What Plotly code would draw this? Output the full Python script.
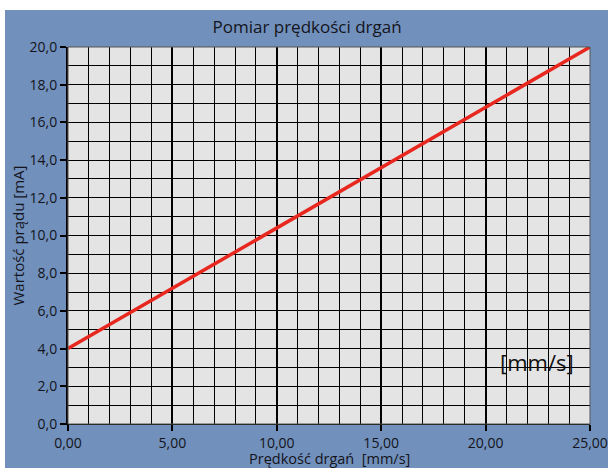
import plotly.graph_objects as go

# Data
speed = [0, 25]          # mm/s
current = [4.0, 20.0]    # mA
x_ticks = [0, 5, 10, 15, 20, 25]
y_ticks = [0, 2, 4, 6, 8, 10, 12, 14, 16, 18, 20]

title = "Pomiar prędkości drgań"
x_title = "Prędkość drgań  [mm/s]"
y_title = "Wartość prądu [mA]"
unit_label = "[mm/s]"

BLUE = "#7190bb"
FONT = "Open Sans"
TXT = "#14141c"

fig = go.Figure()
fig.add_trace(go.Scatter(x=speed, y=current, mode="lines",
                         line=dict(color="#e8271f", width=3.5),
                         showlegend=False, cliponaxis=False, hoverinfo="skip"))

W, H = 608, 468
L, R, T, B = 68, 18, 47, 44
pw, ph = W - L - R, H - T - B

def px_x(p):
    return (p - L) / pw

def px_y(p):
    return (H - B - p) / ph

# white strips (top and left) outside the blue frame
fig.add_shape(type="rect", xref="paper", yref="paper",
              x0=px_x(-5), x1=px_x(W + 5), y0=px_y(10), y1=px_y(-5),
              fillcolor="white", line_width=0, layer="below")
fig.add_shape(type="rect", xref="paper", yref="paper",
              x0=px_x(-5), x1=px_x(5), y0=px_y(H + 5), y1=px_y(-5),
              fillcolor="white", line_width=0, layer="below")
# plot border
fig.add_shape(type="rect", xref="paper", yref="paper",
              x0=0, x1=1, y0=0, y1=1,
              line=dict(color="#555555", width=1), layer="above")

fig.add_annotation(x=22.45, y=3.3, text=unit_label, showarrow=False,
                   font=dict(family=FONT, size=22, color="#111111"))

# x-axis title placed as annotation just below the tick labels
fig.add_annotation(xref="paper", yref="paper", x=0.5, y=px_y(458),
                   xanchor="center", yanchor="middle", text=x_title,
                   showarrow=False, borderpad=0,
                   font=dict(family=FONT, size=14.5, color=TXT))

fig.update_layout(
    width=W, height=H,
    margin=dict(l=L, r=R, t=T, b=B, pad=0, autoexpand=False),
    paper_bgcolor=BLUE,
    plot_bgcolor="#e4e4e4",
    separators=",.",
    font=dict(family=FONT, size=14, color=TXT),
    title=dict(text=title, x=0.505, xanchor="center", y=1 - 27 / H,
               yanchor="middle", automargin=False,
               font=dict(family=FONT, size=17, color=TXT)),
    xaxis=dict(range=[0, 25], tickvals=x_ticks, tickformat=".2f",
               automargin=False, ticklabeloverflow="allow",
               showgrid=True, gridcolor="black", gridwidth=2,
               ticks="outside", ticklen=6, tickwidth=2, tickcolor="black",
               showline=True, linecolor="black", linewidth=1,
               minor=dict(dtick=1, showgrid=True, gridcolor="black", gridwidth=1, ticks=""),
               zeroline=False),
    yaxis=dict(range=[0, 20], tickvals=y_ticks, tickformat=".1f",
               automargin=False, ticklabeloverflow="allow",
               showgrid=True, gridcolor="black", gridwidth=1,
               ticks="outside", ticklen=6, tickwidth=2, tickcolor="black",
               showline=True, linecolor="black", linewidth=2,
               minor=dict(dtick=1, showgrid=True, gridcolor="black", gridwidth=1, ticks=""),
               zeroline=False,
               title=dict(text=y_title, standoff=1, font=dict(family=FONT, size=15))),
)

fig.write_html("out.html",
               config={"displayModeBar": False},
               post_script="document.body.style.margin='0';document.body.style.overflow='hidden';")
